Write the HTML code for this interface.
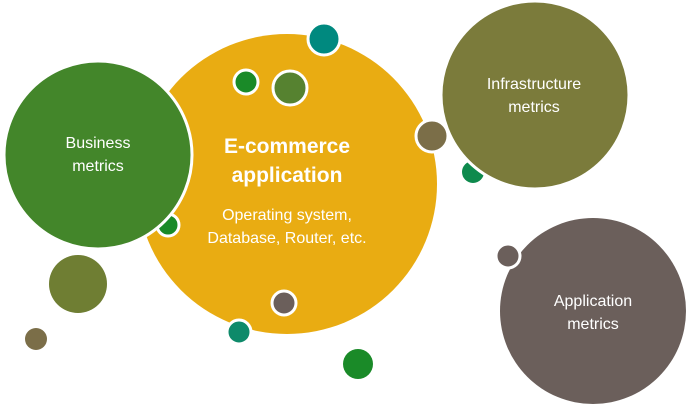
<!DOCTYPE html>
<html><head><style>
body{margin:0;background:#fff}
svg text{font-family:"Liberation Sans",sans-serif;fill:#fff}
</style></head><body>
<svg width="689" height="407" viewBox="0 0 689 407">
<circle cx="287" cy="184" r="150" fill="#E9AC12"/>
<circle cx="473" cy="172" r="11" fill="#0E8A4D"/>
<circle cx="168" cy="225" r="11" fill="#1A8A28" stroke="#fff" stroke-width="3"/>
<circle cx="535" cy="95" r="94" fill="#7B7B3B" stroke="#fff" stroke-width="3"/>
<circle cx="98" cy="155" r="94" fill="#43862A" stroke="#fff" stroke-width="3"/>
<circle cx="593" cy="311" r="93" fill="#6B5F5B"/>
<circle cx="324" cy="39" r="16" fill="#00897F" stroke="#fff" stroke-width="3"/>
<circle cx="246" cy="82" r="12" fill="#1A8A28" stroke="#fff" stroke-width="3"/>
<circle cx="290" cy="88" r="17" fill="#568230" stroke="#fff" stroke-width="3"/>
<circle cx="432" cy="136" r="16" fill="#7B6E48" stroke="#fff" stroke-width="3"/>
<circle cx="78" cy="284" r="29" fill="#6F7E33"/>
<circle cx="36" cy="339" r="11" fill="#7B6E48"/>
<circle cx="284" cy="303" r="12" fill="#6B5F5B" stroke="#fff" stroke-width="3"/>
<circle cx="239" cy="332" r="12" fill="#0E8A6A" stroke="#fff" stroke-width="3"/>
<circle cx="358" cy="364" r="15" fill="#1A8A28"/>
<circle cx="508" cy="256" r="12" fill="#6B5F5B" stroke="#fff" stroke-width="3"/>
<text x="98" y="148" font-size="16" text-anchor="middle">Business</text>
<text x="98" y="171" font-size="16" text-anchor="middle">metrics</text>
<text x="534" y="89" font-size="16" text-anchor="middle">Infrastructure</text>
<text x="534" y="112" font-size="16" text-anchor="middle">metrics</text>
<text x="593" y="306" font-size="16" text-anchor="middle">Application</text>
<text x="593" y="329" font-size="16" text-anchor="middle">metrics</text>
<text x="287" y="153" font-size="21" font-weight="bold" text-anchor="middle">E-commerce</text>
<text x="287" y="182" font-size="21" font-weight="bold" text-anchor="middle">application</text>
<text x="287" y="220" font-size="16" text-anchor="middle">Operating system,</text>
<text x="287" y="243" font-size="16" text-anchor="middle">Database, Router, etc.</text>
</svg>
</body></html>
